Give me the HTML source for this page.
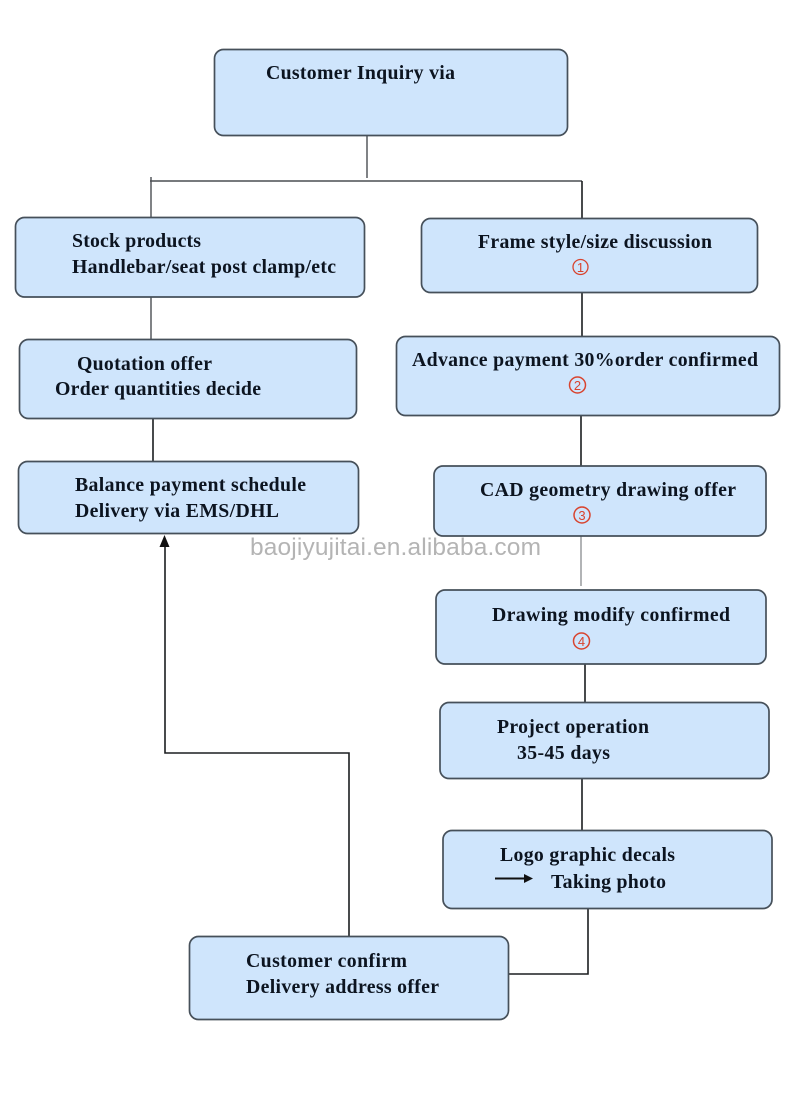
<!DOCTYPE html>
<html><head><meta charset="utf-8"><style>
html,body{margin:0;padding:0;background:#fff}
svg{display:block}
.b{fill:#cfe5fc;stroke:#46505a;stroke-width:1.7}
.l{stroke:#4a4e52;stroke-width:1.4;fill:none}
.d{stroke:#1c1e20;stroke-width:1.6;fill:none}
.t{font-family:"Liberation Serif",serif;font-weight:bold;font-size:19.8px;fill:#0c1420}
.m{font-family:"Liberation Sans",sans-serif;font-size:13px;fill:#d8442f;text-anchor:middle}
</style></head><body>
<svg width="790" height="1095" viewBox="0 0 790 1095" xmlns="http://www.w3.org/2000/svg">
<rect width="790" height="1095" fill="#fff"/>
<path class="l" d="M367 135V178M150 181H582M151 177V218M151 297V339"/>
<path class="d" d="M582 181V218M582 292V336M581 415V466M153 418V461M585 664V702M582 778V830"/>
<path class="l" d="M581 536V586" stroke-opacity=".6"/>
<path class="d" d="M588 908V974H506"/>
<path class="d" d="M349 936V753H165V545"/>
<path d="M164.500 535L159.500 547H169.500Z" fill="#111"/>
<rect class="b" x="214.500" y="49.500" width="353" height="86" rx="9"/>
<rect class="b" x="15.500" y="217.500" width="349" height="79.500" rx="9"/>
<rect class="b" x="19.500" y="339.500" width="337" height="79" rx="9"/>
<rect class="b" x="18.500" y="461.500" width="340" height="72" rx="9"/>
<rect class="b" x="421.500" y="218.500" width="336" height="74" rx="9"/>
<rect class="b" x="396.500" y="336.500" width="383" height="79" rx="9"/>
<rect class="b" x="434" y="466" width="332" height="70" rx="9"/>
<rect class="b" x="436" y="590" width="330" height="74" rx="9"/>
<rect class="b" x="440" y="702.500" width="329" height="76" rx="9"/>
<rect class="b" x="443" y="830.500" width="329" height="78" rx="9"/>
<rect class="b" x="189.500" y="936.500" width="319" height="83" rx="9"/>
<text class="t" x="266" y="79" textLength="189" lengthAdjust="spacing">Customer Inquiry via</text>
<text class="t" x="72" y="247" textLength="129" lengthAdjust="spacing">Stock products</text>
<text class="t" x="72" y="273" textLength="264" lengthAdjust="spacing">Handlebar/seat post clamp/etc</text>
<text class="t" x="77" y="370" textLength="135" lengthAdjust="spacing">Quotation offer</text>
<text class="t" x="55" y="395" textLength="206" lengthAdjust="spacing">Order quantities decide</text>
<text class="t" x="75" y="491" textLength="231" lengthAdjust="spacing">Balance payment schedule</text>
<text class="t" x="75" y="517" textLength="204" lengthAdjust="spacing">Delivery via EMS/DHL</text>
<text class="t" x="478" y="248" textLength="234" lengthAdjust="spacing">Frame style/size discussion</text>
<text class="t" x="412" y="366" textLength="346" lengthAdjust="spacing">Advance payment 30%order confirmed</text>
<text class="t" x="480" y="496" textLength="256" lengthAdjust="spacing">CAD geometry drawing offer</text>
<text class="t" x="492" y="621" textLength="238" lengthAdjust="spacing">Drawing modify confirmed</text>
<text class="t" x="497" y="733" textLength="152" lengthAdjust="spacing">Project operation</text>
<text class="t" x="517" y="759" textLength="93" lengthAdjust="spacing">35-45 days</text>
<text class="t" x="500" y="861" textLength="175" lengthAdjust="spacing">Logo graphic decals</text>
<text class="t" x="551" y="888" textLength="115" lengthAdjust="spacing">Taking photo</text>
<text class="t" x="246" y="967" textLength="161" lengthAdjust="spacing">Customer confirm</text>
<text class="t" x="246" y="993" textLength="193" lengthAdjust="spacing">Delivery address offer</text>
<circle cx="580.500" cy="267" r="7.500" fill="none" stroke="#d8442f" stroke-width="1.300"/>
<text class="m" x="580.500" y="272">1</text>
<circle cx="577.500" cy="385" r="8" fill="none" stroke="#d8442f" stroke-width="1.500"/>
<text class="m" x="577.500" y="390">2</text>
<circle cx="582" cy="515" r="8" fill="none" stroke="#d8442f" stroke-width="1.500"/>
<text class="m" x="582" y="520">3</text>
<circle cx="581.500" cy="641" r="8" fill="none" stroke="#d8442f" stroke-width="1.500"/>
<text class="m" x="581.500" y="646">4</text>
<path d="M495 878.500H526" stroke="#111" stroke-width="2"/>
<path d="M533 878.500L524 874V883Z" fill="#111"/>
<text x="250" y="555" textLength="291" lengthAdjust="spacing" font-family="Liberation Sans,sans-serif" font-size="24.5" fill="#b4b4b4">baojiyujitai.en.alibaba.com</text>
</svg>
</body></html>
